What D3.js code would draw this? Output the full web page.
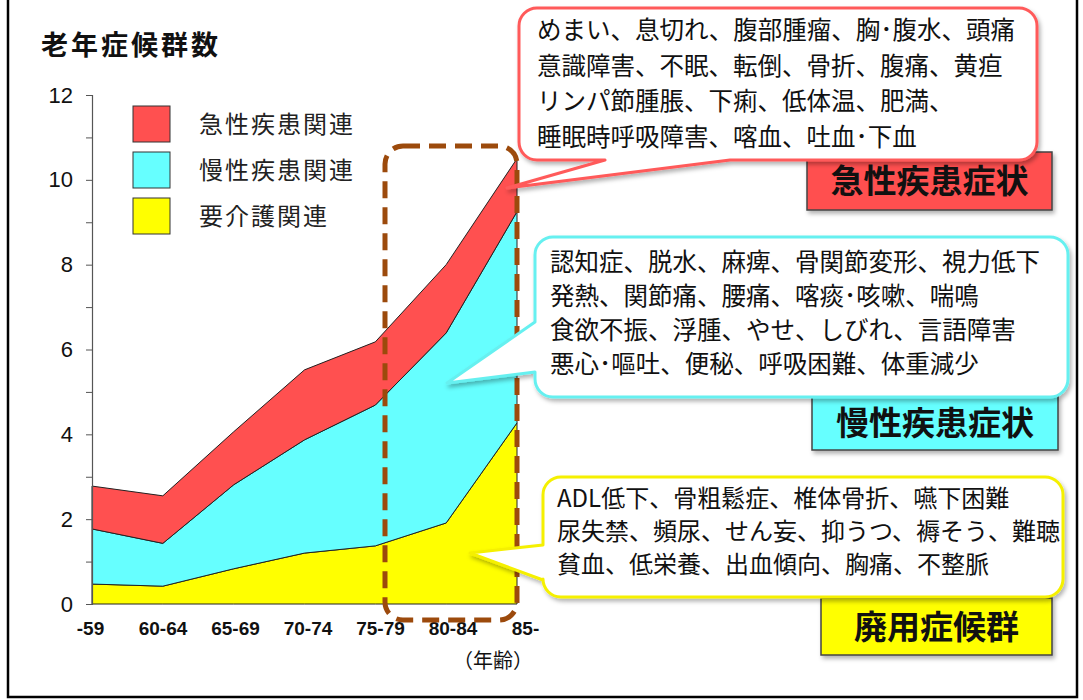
<!DOCTYPE html>
<html>
<head>
<meta charset="utf-8">
<script src="https://cdn.jsdelivr.net/npm/d3@7/dist/d3.min.js"></script>
<style>
  html, body { margin: 0; padding: 0; background: #fff; }
  svg { display: block; }
  .jp { font-family: "Noto Sans CJK JP", "Noto Sans", sans-serif; }
  .num { font-family: "Liberation Sans", Arial, sans-serif; }
</style>
</head>
<body>
<svg id="chart" width="1083" height="700"></svg>
<script>
// ---------- data ----------
const ageLabels = ["-59", "60-64", "65-69", "70-74", "75-79", "80-84", "85-"];
const careValues    = [0.47, 0.42, 0.83, 1.20, 1.37, 1.91, 4.27]; // 要介護関連
const chronicValues = [1.30, 1.01, 1.98, 2.67, 3.32, 4.48, 4.98]; // 慢性疾患関連
const acuteValues   = [1.01, 1.12, 1.25, 1.65, 1.49, 1.61, 1.25]; // 急性疾患関連
const yTickValues = [0, 1, 2, 3, 4, 5, 6, 7, 8, 9, 10, 11, 12];
const yLabelValues = [0, 2, 4, 6, 8, 10, 12];
const seriesKeys = ["care", "chronic", "acute"];
const seriesNames = { acute: "急性疾患関連", chronic: "慢性疾患関連", care: "要介護関連" };
const seriesColors = { acute: "#ff5050", chronic: "#66ffff", care: "#ffff00" };
const legendOrder = ["acute", "chronic", "care"];
const titleText = "老年症候群数";
const xUnitText = "（年齢）";

const acuteLines = ["めまい、息切れ、腹部腫瘤、胸･腹水、頭痛",
                    "意識障害、不眠、転倒、骨折、腹痛、黄疸",
                    "リンパ節腫脹、下痢、低体温、肥満、",
                    "睡眠時呼吸障害、喀血、吐血･下血"];
const chronicLines = ["認知症、脱水、麻痺、骨関節変形、視力低下",
                      "発熱、関節痛、腰痛、喀痰･咳嗽、喘鳴",
                      "食欲不振、浮腫、やせ、しびれ、言語障害",
                      "悪心･嘔吐、便秘、呼吸困難、体重減少"];
const careLines = ["ADL低下、骨粗鬆症、椎体骨折、嚥下困難",
                   "尿失禁、頻尿、せん妄、抑うつ、褥そう、難聴",
                   "貧血、低栄養、出血傾向、胸痛、不整脈"];
const groupLabels = { acute: "急性疾患症状", chronic: "慢性疾患症状", care: "廃用症候群" };

// ---------- build table ----------
const table = ageLabels.map((a, i) => ({
  age: a, care: careValues[i], chronic: chronicValues[i], acute: acuteValues[i]
}));
const stacked = d3.stack().keys(seriesKeys)(table);

const svg = d3.select("#chart");

// drop shadow filter
const defs = svg.append("defs");
const f = defs.append("filter").attr("id", "shadow").attr("x", "-10%").attr("y", "-10%")
  .attr("width", "130%").attr("height", "140%");
f.append("feDropShadow").attr("dx", 2).attr("dy", 3).attr("stdDeviation", 2)
  .attr("flood-color", "#000").attr("flood-opacity", 0.3);

// frame
svg.append("rect").attr("x", 8).attr("y", -5).attr("width", 1069).attr("height", 702)
  .attr("fill", "none").attr("stroke", "#000").attr("stroke-width", 2.5);

// scales
const x = d3.scalePoint().domain(ageLabels).range([92, 517]);
const xLabel = d3.scalePoint().domain(ageLabels).range([90, 525]);
const y = d3.scaleLinear().domain([0, 12]).range([604, 95]);

// areas
const area = d3.area()
  .x(d => x(d.data.age))
  .y0(d => y(d[0]))
  .y1(d => y(d[1]));
svg.append("g").selectAll("path").data(stacked).join("path")
  .attr("d", area)
  .attr("fill", d => seriesColors[d.key])
  .attr("stroke", "#222")
  .attr("stroke-width", 1)
  .attr("stroke-linejoin", "round");

// y axis
const yAxis = d3.axisLeft(y).tickValues(yTickValues).tickSize(6).tickPadding(13)
  .tickFormat(d => yLabelValues.includes(d) ? d : "");
const gy = svg.append("g").attr("transform", "translate(92,0)").call(yAxis);
gy.select(".domain").attr("stroke", "#555").attr("stroke-width", 1.2);
gy.selectAll(".tick line").attr("stroke", "#555");
gy.selectAll("text").attr("class", "num").attr("font-size", 22).attr("fill", "#111");

// x axis labels
const xAxis = d3.axisBottom(xLabel).tickSize(0).tickPadding(0);
const gx = svg.append("g").attr("transform", "translate(0,621)").call(xAxis);
gx.select(".domain").remove();
gx.selectAll("text").attr("class", "num").attr("font-size", 19).attr("font-weight", "bold")
  .attr("fill", "#111").attr("dy", "0.75em");

svg.append("text").attr("class", "jp").attr("x", 493).attr("y", 668)
  .attr("text-anchor", "middle").attr("font-size", 20).attr("fill", "#111").text(xUnitText);

// title
svg.append("text").attr("class", "jp").attr("x", 41).attr("y", 55)
  .attr("font-size", 27).attr("font-weight", "bold").attr("letter-spacing", 3)
  .attr("fill", "#111").text(titleText);

// legend
const lg = svg.append("g");
legendOrder.forEach((k, i) => {
  const yy = 106 + i * 46;
  lg.append("rect").attr("x", 133).attr("y", yy).attr("width", 37).attr("height", 36)
    .attr("fill", seriesColors[k]).attr("stroke", "#333").attr("stroke-width", 1);
  lg.append("text").attr("class", "jp").attr("x", 199).attr("y", yy + 27)
    .attr("font-size", 24).attr("letter-spacing", 2).attr("fill", "#222").text(seriesNames[k]);
});

// dashed highlight box
svg.append("rect").attr("x", 385).attr("y", 146).attr("width", 132).attr("height", 474)
  .attr("rx", 18).attr("ry", 18)
  .attr("fill", "none").attr("stroke", "#9c4a0c").attr("stroke-width", 5)
  .attr("stroke-dasharray", "17,9");

// group label boxes
function labelBox(key, bx, by, bw, bh) {
  svg.append("rect").attr("x", bx).attr("y", by).attr("width", bw).attr("height", bh)
    .attr("fill", seriesColors[key]).attr("stroke", "#444").attr("stroke-width", 1.5)
    .attr("filter", "url(#shadow)");
  svg.append("text").attr("class", "jp").attr("x", bx + bw / 2).attr("y", by + bh / 2 + 12)
    .attr("text-anchor", "middle").attr("font-size", 33).attr("font-weight", "bold")
    .attr("fill", "#111").text(groupLabels[key]);
}
labelBox("acute", 807, 152, 245, 58);
labelBox("chronic", 812, 396, 246, 54);
labelBox("care", 821, 598, 231, 57);

// callout helpers
function roundedWithPointer(bx, by, bw, bh, r, side, p1, p2, tip) {
  const p = d3.path();
  p.moveTo(bx + r, by);
  p.lineTo(bx + bw - r, by);
  p.arcTo(bx + bw, by, bx + bw, by + r, r);
  p.lineTo(bx + bw, by + bh - r);
  p.arcTo(bx + bw, by + bh, bx + bw - r, by + bh, r);
  if (side === "bottom") {
    p.lineTo(p2, by + bh);
    p.lineTo(tip[0], tip[1]);
    p.lineTo(p1, by + bh);
  }
  p.lineTo(bx + r, by + bh);
  p.arcTo(bx, by + bh, bx, by + bh - r, r);
  if (side === "left") {
    p.lineTo(bx, p2);
    p.lineTo(tip[0], tip[1]);
    p.lineTo(bx, p1);
  }
  p.lineTo(bx, by + r);
  p.arcTo(bx, by, bx + r, by, r);
  p.closePath();
  return p.toString();
}
function callout(pathD, stroke, lines, tx, ty0, dy, fs) {
  svg.append("path").attr("d", pathD).attr("fill", "#fff").attr("stroke", stroke)
    .attr("stroke-width", 3).attr("stroke-linejoin", "round").attr("filter", "url(#shadow)");
  const t = svg.append("text").attr("class", "jp").attr("font-size", fs).attr("fill", "#111");
  lines.forEach((l, i) => {
    t.append("tspan").attr("x", tx).attr("y", ty0 + i * dy).text(l);
  });
}

callout(roundedWithPointer(519, 8, 518, 152, 18, "bottom", 605, 730, [507, 188]),
  "#ff5a5a", acuteLines, 537, 39, 35.5, 24.5);
callout(roundedWithPointer(535, 237, 533, 160, 18, "left", 322, 372, [447, 383]),
  "#66f0f0", chronicLines, 550, 271, 34, 24.5);
callout(roundedWithPointer(543, 477, 520, 120, 18, "left", 545, 580, [470, 553]),
  "#f5f000", careLines, 557, 507, 33, 24);
</script>
</body>
</html>
